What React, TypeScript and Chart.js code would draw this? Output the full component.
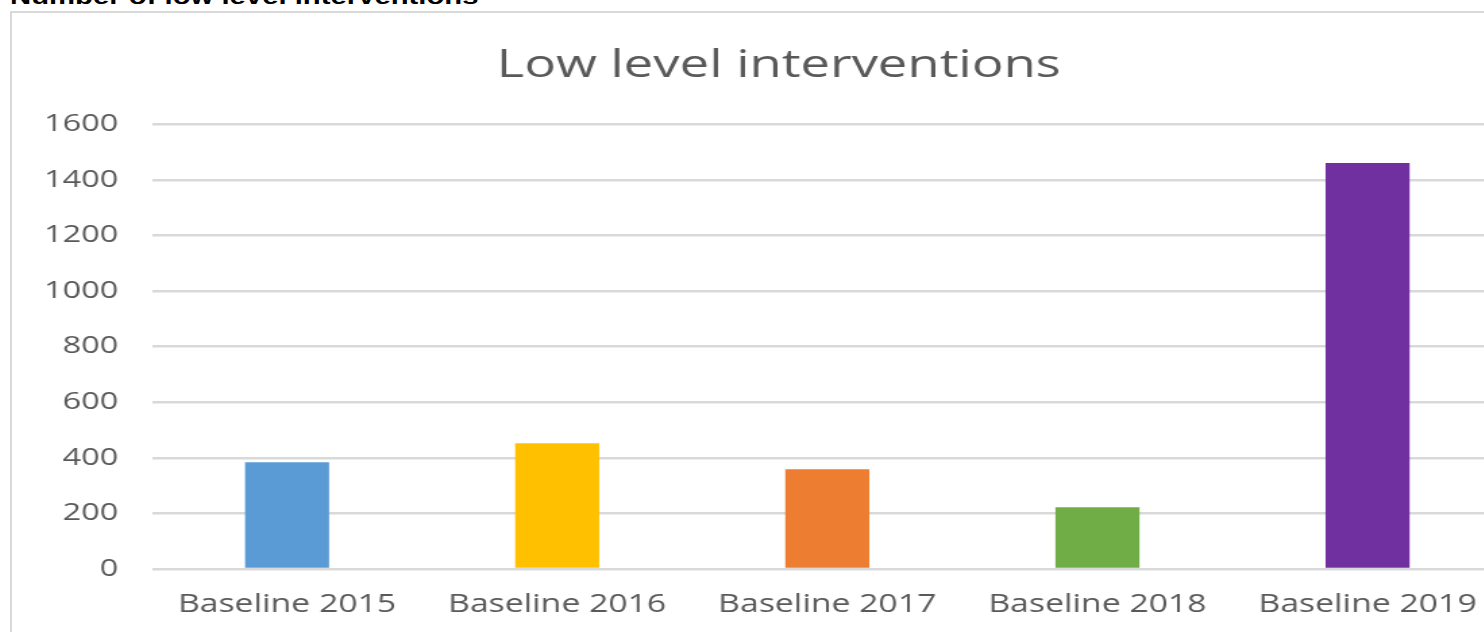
import React, { useEffect, useRef } from "react";
import { Chart, registerables } from "chart.js";

Chart.register(...registerables);

const categories = ["Baseline 2015", "Baseline 2016", "Baseline 2017", "Baseline 2018", "Baseline 2019"];
const values = [384, 452, 359, 222, 1460];
const barColors = ["#5B9BD5", "#FFC000", "#ED7D31", "#70AD47", "#7030A0"];
const yTicks = [0, 200, 400, 600, 800, 1000, 1200, 1400, 1600];
const chartTitle = "Low level interventions";
const headerText = "Number of low level interventions";

const S = 1.35; // horizontal stretch of the reference
const CANVAS_W = Math.round(1534 / S);
const CANVAS_H = 620;
const FONT = '"Open Sans", "Noto Sans", sans-serif';
const TEXT = "#595959";
const GRID = "#d9d9d9";

// centre the title over the whole canvas instead of the padded box
const centreTitle = {
  id: "centreTitle",
  afterLayout(chart: any) {
    const tb = chart.titleBlock;
    if (tb) {
      tb.left = 0;
      tb.right = chart.width;
    }
  },
};

export default function App() {
  const ref = useRef<HTMLCanvasElement | null>(null);

  useEffect(() => {
    if (!ref.current) return;
    const chart = new Chart(ref.current, {
      type: "bar",
      data: {
        labels: categories,
        datasets: [
          {
            data: values,
            backgroundColor: barColors,
            borderWidth: 0,
            barPercentage: 0.311,
            categoryPercentage: 1,
          },
        ],
      },
      plugins: [centreTitle],
      options: {
        responsive: false,
        animation: false,
        devicePixelRatio: 1,
        layout: { padding: { top: 0, right: (1546 - 1503) / S, bottom: 0, left: 0 } },
        plugins: {
          legend: { display: false },
          tooltip: { enabled: false },
          title: {
            display: true,
            text: chartTitle,
            color: TEXT,
            font: { family: FONT, size: 39, weight: "normal" },
            padding: { top: 28.5, bottom: 34.9 },
          },
        },
        scales: {
          x: {
            grid: { display: false, drawTicks: false },
            border: { display: false },
            ticks: {
              color: TEXT,
              font: { family: FONT, size: 25 },
              padding: 21,
              maxRotation: 0,
              autoSkip: false,
            },
            afterFit: (scale: any) => {
              scale.height = 65;
            },
          },
          y: {
            min: 0,
            max: 1600,
            afterBuildTicks: (scale: any) => {
              scale.ticks = yTicks.map((v) => ({ value: v }));
            },
            grid: { color: GRID, lineWidth: 2.5, drawTicks: false },
            border: { display: false },
            ticks: {
              color: TEXT,
              font: { family: FONT, size: 24 },
              padding: 25,
              callback: (v: any) => String(v),
            },
            afterFit: (scale: any) => {
              scale.width = (152 - 12) / S;
            },
          },
        },
      },
    });
    return () => chart.destroy();
  }, []);

  return (
    <div
      style={{
        position: "fixed",
        left: 0,
        top: 0,
        width: "100vw",
        height: "100vh",
        overflow: "hidden",
        background: "#fff",
      }}
    >
      <div
        style={{
          position: "absolute",
          left: 10,
          top: -14,
          transform: `scaleX(${S})`,
          transformOrigin: "left top",
          font: 'bold 21.7px "Liberation Sans", Arial, sans-serif',
          lineHeight: "22px",
          whiteSpace: "nowrap",
          color: "#000",
        }}
      >
        {headerText}
      </div>
      <div
        style={{
          position: "absolute",
          left: 10,
          top: 11,
          width: 2000,
          height: 1000,
          border: `2px solid ${GRID}`,
        }}
      />
      <div
        style={{
          position: "absolute",
          left: 12,
          top: 14,
          width: CANVAS_W,
          height: CANVAS_H,
          transform: `scaleX(${S})`,
          transformOrigin: "left top",
        }}
      >
        <canvas ref={ref} width={CANVAS_W} height={CANVAS_H} />
      </div>
    </div>
  );
}
